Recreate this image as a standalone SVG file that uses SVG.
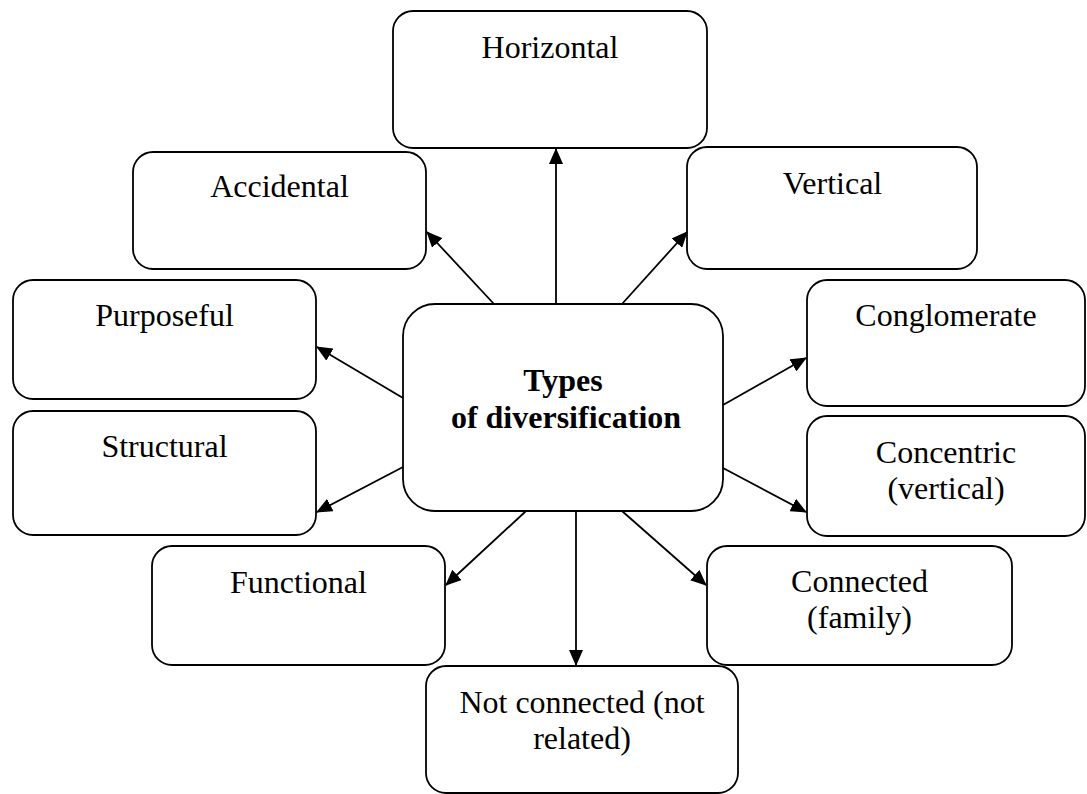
<svg xmlns="http://www.w3.org/2000/svg" width="1087" height="794" viewBox="0 0 1087 794">
<style>
.box{fill:#fff;stroke:#000;stroke-width:1.8}
.t{font-family:"Liberation Serif","Times New Roman",serif;font-size:32px;fill:#000;text-anchor:middle}
.b{font-weight:bold}
.c{stroke:#000;stroke-width:1.8;fill:none;marker-end:url(#ah)}
</style>
<defs>
<marker id="ah" markerUnits="userSpaceOnUse" markerWidth="16" markerHeight="14" refX="15" refY="7" orient="auto">
<path d="M0,0 L16,7 L0,14 Z" fill="#000"/>
</marker>
</defs>
<rect width="1087" height="794" fill="#fff"/>
<g id="horizontal"><rect class="box" x="393" y="11" width="314" height="137" rx="20"/><text class="t" x="550" y="58">Horizontal</text></g>
<g id="accidental"><rect class="box" x="133" y="152" width="293" height="117" rx="20"/><text class="t" x="279.5" y="197">Accidental</text></g>
<g id="vertical"><rect class="box" x="687" y="147" width="290" height="122" rx="20"/><text class="t" x="832.5" y="194">Vertical</text></g>
<g id="purposeful"><rect class="box" x="13" y="280" width="303" height="119" rx="20"/><text class="t" x="164.5" y="326">Purposeful</text></g>
<g id="structural"><rect class="box" x="13" y="411" width="303" height="124" rx="20"/><text class="t" x="164.5" y="457">Structural</text></g>
<g id="conglomerate"><rect class="box" x="807" y="280" width="278" height="126" rx="20"/><text class="t" x="946" y="326">Conglomerate</text></g>
<g id="concentric"><rect class="box" x="807" y="416" width="278" height="120" rx="20"/><text class="t" x="946" y="463">Concentric</text><text class="t" x="946" y="499">(vertical)</text></g>
<g id="functional"><rect class="box" x="152" y="546" width="293" height="119" rx="20"/><text class="t" x="298.5" y="593">Functional</text></g>
<g id="connected"><rect class="box" x="707" y="546" width="305" height="119" rx="20"/><text class="t" x="859.5" y="592">Connected</text><text class="t" x="859.5" y="628">(family)</text></g>
<g id="not-connected"><rect class="box" x="426" y="666" width="312" height="127" rx="20"/><text class="t" x="582" y="713">Not connected (not</text><text class="t" x="582" y="749">related)</text></g>
<g id="center"><rect class="box" x="403" y="304" width="320" height="207" rx="32"/><text class="t b" x="563" y="391">Types</text><text class="t b" x="566" y="428">of diversification</text></g>
<g id="connectors">
<line class="c" x1="556" y1="304" x2="556" y2="149"/>
<line class="c" x1="494" y1="304" x2="427" y2="232"/>
<line class="c" x1="622" y1="304" x2="687" y2="232"/>
<line class="c" x1="403" y1="398" x2="317" y2="347"/>
<line class="c" x1="403" y1="467" x2="317" y2="512"/>
<line class="c" x1="723" y1="405" x2="806" y2="358"/>
<line class="c" x1="723" y1="468" x2="806" y2="512"/>
<line class="c" x1="526" y1="511" x2="446" y2="585"/>
<line class="c" x1="622" y1="511" x2="706" y2="585"/>
<line class="c" x1="576" y1="511" x2="576" y2="665"/>
</g>
</svg>
